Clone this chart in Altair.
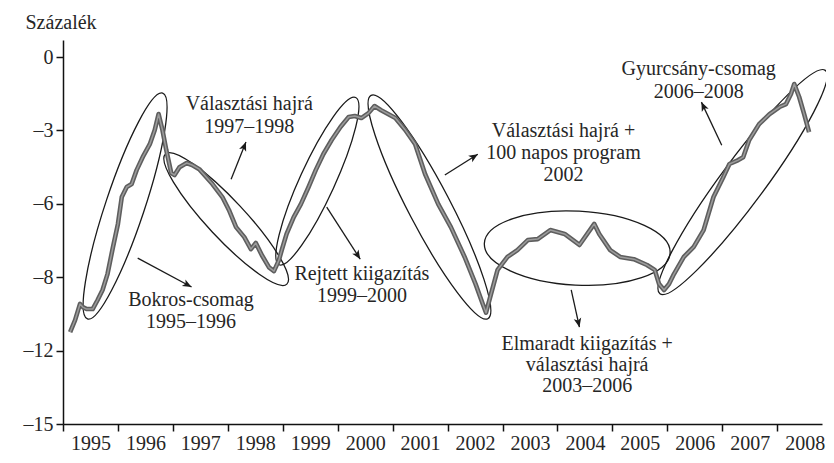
import math
import altair as alt
import pandas as pd

# ---------------- data ----------------
years = [1995.13, 1995.22, 1995.31, 1995.36, 1995.43, 1995.54, 1995.63, 1995.72, 1995.81, 1995.91,
         1996.00, 1996.07, 1996.16, 1996.25, 1996.34, 1996.45, 1996.58, 1996.67, 1996.74, 1996.81,
         1996.88, 1996.97, 1997.03, 1997.12, 1997.25, 1997.35, 1997.48, 1997.72, 1997.90, 1998.02,
         1998.15, 1998.30, 1998.42, 1998.51, 1998.62, 1998.75, 1998.84, 1998.93, 1998.98, 1999.07,
         1999.20, 1999.33, 1999.47, 1999.60, 1999.74, 1999.89, 2000.05, 2000.20, 2000.31, 2000.43,
         2000.56, 2000.67, 2000.79, 2001.05, 2001.23, 2001.41, 2001.59, 2001.83, 2002.06, 2002.31,
         2002.51, 2002.64, 2002.70, 2002.79, 2002.91, 2003.09, 2003.27, 2003.46, 2003.64, 2003.87,
         2004.13, 2004.40, 2004.67, 2004.76, 2004.96, 2005.14, 2005.39, 2005.63, 2005.77, 2005.85,
         2005.94, 2006.03, 2006.12, 2006.30, 2006.48, 2006.66, 2006.84, 2007.02, 2007.13, 2007.29,
         2007.38, 2007.49, 2007.67, 2007.86, 2008.04, 2008.16, 2008.25, 2008.31, 2008.40, 2008.49,
         2008.58]
values = [-11.24, -10.75, -10.09, -10.22, -10.30, -10.30, -9.93, -9.52, -8.87, -7.76,
          -6.82, -5.72, -5.31, -5.19, -4.62, -4.09, -3.56, -2.98, -2.33, -2.98,
          -3.80, -4.74, -4.82, -4.50, -4.33, -4.41, -4.58, -5.19, -5.72, -6.25,
          -6.95, -7.36, -7.85, -7.60, -8.10, -8.60, -8.75, -8.30, -7.90, -7.23,
          -6.54, -6.01, -5.31, -4.62, -3.96, -3.39, -2.86, -2.45, -2.41, -2.49,
          -2.29, -2.00, -2.17, -2.49, -2.98, -3.56, -4.78, -6.01, -6.95, -8.17,
          -9.28, -10.09, -10.45, -9.69, -8.70, -8.17, -7.89, -7.48, -7.44, -7.07,
          -7.23, -7.68, -6.82, -7.23, -7.89, -8.17, -8.26, -8.50, -8.70, -9.28,
          -9.52, -9.28, -8.87, -8.17, -7.76, -7.07, -5.72, -4.90, -4.37, -4.21,
          -4.09, -3.39, -2.74, -2.33, -2.04, -1.92, -1.51, -1.10, -1.63, -2.33,
          -3.07]

x_ticks = list(range(1995, 2009))
y_ticks = [0, -3, -6, -9, -12, -15]
y_tick_labels = ["0", "\u20133", "\u20136", "\u20138", "\u201312", "\u201315"]

# annotation texts: line, x (year), y (value)
ann_lines = ["V\u00e1laszt\u00e1si hajr\u00e1", "1997\u20131998",
             "Bokros-csomag", "1995\u20131996",
             "Rejtett kiigaz\u00edt\u00e1s", "1999\u20132000",
             "V\u00e1laszt\u00e1si hajr\u00e1 +", "100 napos program", "2002",
             "Elmaradt kiigaz\u00edt\u00e1s +", "v\u00e1laszt\u00e1si hajr\u00e1", "2003\u20132006",
             "Gyurcs\u00e1ny-csomag", "2006\u20132008"]
ann_x = [1998.39, 1998.39,
         1997.33, 1997.33,
         2000.44, 2000.44,
         2004.11, 2004.11, 2004.11,
         2004.54, 2004.54, 2004.54,
         2006.57, 2006.57]
ann_y = [-1.92, -2.86,
         -9.93, -10.83,
         -8.87, -9.77,
         -3.02, -3.92, -4.82,
         -11.73, -12.59, -13.45,
         -0.49, -1.43]

# ellipses: centre (year, value), semi-axes, rotation
ell_x = [1996.13, 1997.97, 1999.63, 2001.67, 2004.36, 2007.37]
ell_y = [-6.09, -6.62, -5.07, -6.13, -7.81, -5.11]
ell_a = [119, 89, 92, 126, 93, 139]
ell_b = [19.5, 19, 17.5, 21, 37, 22]
ell_angle = [288.4, 47, 294.6, 62.4, 3, 306.5]

# arrows: from (x1, y1) to (x2, y2)
arr_x1 = [1996.36, 1998.06, 1999.80, 2001.95, 2004.25, 2006.99]
arr_y1 = [-8.22, -4.99, -6.13, -4.82, -9.52, -3.60]
arr_x2 = [1997.34, 1998.33, 2000.41, 2002.55, 2004.40, 2006.62]
arr_y2 = [-9.40, -3.47, -8.26, -3.97, -11.04, -1.84]

# ---------------- layout ----------------
W, H = 759, 384
XD = [1995, 2008.815]
YD = [-15, 0.7]
PX = W / (XD[1] - XD[0])
PY = H / (YD[1] - YD[0])
FONT = "Liberation Serif"
TXT = "#262626"

xs = alt.Scale(domain=XD, nice=False, zero=False)
ys = alt.Scale(domain=YD, nice=False, zero=False)

line_df = pd.DataFrame({"x": years, "y": values})


def ellipse_path(r):
    k = 0.5523
    kr = k * r
    return (f"M-1,0C-1,{-kr:.4f} {-k},{-r:.4f} 0,{-r:.4f}"
            f"C{k},{-r:.4f} 1,{-kr:.4f} 1,0"
            f"C1,{kr:.4f} {k},{r:.4f} 0,{r:.4f}"
            f"C{-k},{r:.4f} -1,{kr:.4f} -1,0Z")


ell_df = pd.DataFrame({
    "x": ell_x, "y": ell_y,
    "shape": [ellipse_path(b / a) for a, b in zip(ell_a, ell_b)],
    "size": [(2 * a) ** 2 for a in ell_a],
    "angle": ell_angle,
})

arr_df = pd.DataFrame({"x": arr_x1, "y": arr_y1, "x2": arr_x2, "y2": arr_y2})
arr_df["angle"] = [
    (math.degrees(math.atan2(-(y2 - y1) * PY, (x2 - x1) * PX)) + 360) % 360
    for x1, y1, x2, y2 in zip(arr_x1, arr_y1, arr_x2, arr_y2)
]
ARROW = "M0,0L-1,-0.42L-0.75,0L-1,0.42Z"

txt_df = pd.DataFrame({"t": ann_lines, "x": ann_x, "y": ann_y})

label_expr = " : ".join(
    f"datum.value == {v} ? '{l}'" for v, l in zip(y_ticks, y_tick_labels)
) + " : ''"

x_axis = alt.Axis(values=x_ticks, format="d", labelOffset=PX / 2, labelFlush=False,
                  labelOverlap=False, labelFont=FONT, labelFontSize=20, labelColor=TXT,
                  tickSize=7, tickWidth=1.5, tickColor="#111", domainColor="#111",
                  domainWidth=1.5, grid=False, title=None, labelPadding=2)
y_axis = alt.Axis(values=y_ticks, labelExpr=label_expr, labelFont=FONT, labelFontSize=20,
                  labelColor=TXT, tickSize=7, tickWidth=1.5, tickColor="#111",
                  domainColor="#111", domainWidth=1.5, grid=False, labelPadding=3,
                  title="Sz\u00e1zal\u00e9k", titleAngle=0, titleAlign="left",
                  titleBaseline="middle", titleX=-38, titleY=-18, titleFont=FONT,
                  titleFontSize=20, titleFontWeight="normal", titleColor=TXT)


def X(field):
    return alt.X(field, scale=xs, axis=x_axis)


def Y(field):
    return alt.Y(field, scale=ys, axis=y_axis)


ellipses = alt.Chart(ell_df).mark_point(filled=False, color="#1a1a1a", strokeWidth=1.3,
                                        opacity=1).encode(
    x=X("x:Q"), y=Y("y:Q"),
    shape=alt.Shape("shape:N", scale=None),
    size=alt.Size("size:Q", scale=None),
    angle=alt.Angle("angle:Q", scale=None),
)

rules = alt.Chart(arr_df).mark_rule(color="#1a1a1a", strokeWidth=1.3).encode(
    x=X("x:Q"), y=Y("y:Q"), x2="x2:Q", y2="y2:Q",
)

heads = alt.Chart(arr_df).mark_point(filled=True, color="#1a1a1a", opacity=1,
                                     shape=ARROW, size=324).encode(
    x=X("x2:Q"), y=Y("y2:Q"),
    angle=alt.Angle("angle:Q", scale=None),
)

line_outer = alt.Chart(line_df).mark_line(color="#5e5e5e", strokeWidth=4.6,
                                          strokeJoin="round").encode(
    x=X("x:Q"), y=Y("y:Q"),
)
line_inner = alt.Chart(line_df).mark_line(color="#9c9c9c", strokeWidth=1.5,
                                          strokeJoin="round").encode(
    x=X("x:Q"), y=Y("y:Q"),
)

texts = alt.Chart(txt_df).mark_text(font=FONT, fontSize=20, color=TXT, align="center",
                                    baseline="middle").encode(
    x=X("x:Q"), y=Y("y:Q"), text="t:N",
)

chart = alt.layer(ellipses, rules, heads, line_outer, line_inner, texts).properties(
    width=W, height=H,
    autosize=alt.AutoSizeParams(type="none"),
    padding={"left": 55, "top": 32, "right": 4, "bottom": 31},
    background="white",
).configure_view(stroke=None)

chart.save("out.html", embed_options={"renderer": "svg", "actions": False})
